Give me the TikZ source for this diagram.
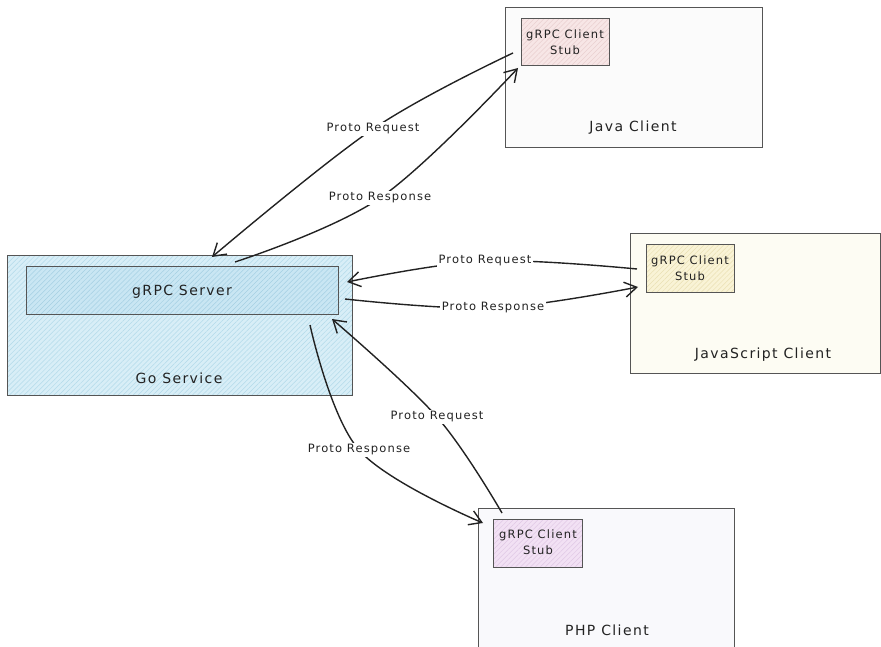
\documentclass[tikz,border=0pt]{standalone}
\usepackage{fontspec}
\setmainfont{DejaVu Sans}[LetterSpace=10]
\usetikzlibrary{arrows.meta,patterns.meta}

\definecolor{ink}{HTML}{222222}
\definecolor{edge}{HTML}{555555}
\definecolor{goFill}{HTML}{D8EEF7}
\definecolor{goHatch}{HTML}{B3DAEA}
\definecolor{srvFill}{HTML}{C9E6F3}
\definecolor{srvHatch}{HTML}{A5D0E3}
\definecolor{javaStub}{HTML}{F7E6E6}
\definecolor{javaHatch}{HTML}{EACFCF}
\definecolor{jsStub}{HTML}{F9F3D6}
\definecolor{jsHatch}{HTML}{EAE0B3}
\definecolor{phpStub}{HTML}{F2E1F4}
\definecolor{phpHatch}{HTML}{E0C8E5}
\definecolor{javaBg}{HTML}{FBFBFB}
\definecolor{jsBg}{HTML}{FDFCF3}
\definecolor{phpBg}{HTML}{F9F9FC}

\tikzset{
  panel/.style={draw=edge, line width=1.4pt, anchor=north west, inner sep=0pt},
  hatched/.style 2 args={preaction={fill=#1},
    pattern={Lines[angle=45,distance=3.5pt,line width=0.5pt]}, pattern color=#2},
  stubbox/.style={draw=edge, line width=1.2pt, anchor=north west, inner sep=0pt},
  title/.style={text=ink, font=\fontsize{14}{16}\selectfont},
  stubtext/.style={text=ink, align=center, font=\fontsize{11.5}{16.5}\selectfont},
  tag/.style={text=ink, fill=white, inner sep=2pt, font=\fontsize{11.5}{13}\selectfont},
  conn/.style={draw=ink, line width=1.4pt,
    -{Straight Barb[length=12pt,width=15pt,line width=1.4pt]}},
}

\begin{document}
\begin{tikzpicture}[x=1pt,y=-1pt]
\useasboundingbox (0,0) rectangle (881,647);
\clip (0,0) rectangle (881,647);

% ---- boxes ----
\node[panel, fill=javaBg, minimum width=257pt, minimum height=140pt] (java) at (505,7) {};
\node[panel, fill=jsBg, minimum width=250pt, minimum height=140pt] (js) at (630,233) {};
\node[panel, fill=phpBg, minimum width=256pt, minimum height=160pt] (php) at (478,508) {};
\node[panel, hatched={goFill}{goHatch}, minimum width=345pt, minimum height=140pt] (go) at (7,255) {};
\node[panel, line width=1.2pt, hatched={srvFill}{srvHatch}, minimum width=312pt, minimum height=48pt] (srv) at (26,266) {};

\node[stubbox, hatched={javaStub}{javaHatch}, minimum width=88pt, minimum height=47pt] (jstub) at (521,18) {};
\node[stubbox, hatched={jsStub}{jsHatch}, minimum width=88pt, minimum height=48pt] (jsstub) at (646,244) {};
\node[stubbox, hatched={phpStub}{phpHatch}, minimum width=89pt, minimum height=48pt] (pstub) at (493,519) {};

% ---- box texts ----
\node[stubtext] (jstubtxt) at (565,42) {gRPC Client\\Stub};
\node[stubtext] (jsstubtxt) at (690,268) {gRPC Client\\Stub};
\node[stubtext] (pstubtxt) at (538,542) {gRPC Client\\Stub};
\node[title] (javatxt) at (633,128) {Java Client};
\node[title] (jstxt) at (763,355) {JavaScript Client};
\node[title] (phptxt) at (607,630) {PHP Client};
\node[title] (srvtxt) at (182,292) {gRPC Server};
\node[title] (gotxt) at (179,378) {Go Service};

% ---- connector end points and label centres ----
\coordinate (jreqA) at (513,53);  \coordinate (jreqM) at (373,129); \coordinate (jreqB) at (212,257);
\coordinate (jresA) at (235,262); \coordinate (jresM) at (380,198); \coordinate (jresB) at (518,68);
\coordinate (sreqA) at (637,269); \coordinate (sreqM) at (485,261); \coordinate (sreqB) at (347,282);
\coordinate (sresA) at (345,299); \coordinate (sresM) at (493,308); \coordinate (sresB) at (638,287);
\coordinate (preqA) at (502,513); \coordinate (preqM) at (437,417); \coordinate (preqB) at (332,319);
\coordinate (presA) at (310,325); \coordinate (presM) at (359,450); \coordinate (presB) at (483,523);

% ---- connectors ----
\draw[conn] plot[smooth,tension=0.6] coordinates {(jreqA) (jreqM) (jreqB)};
\draw[conn] plot[smooth,tension=0.6] coordinates {(jresA) (jresM) (jresB)};
\draw[conn] plot[smooth,tension=0.6] coordinates {(sreqA) (sreqM) (sreqB)};
\draw[conn] plot[smooth,tension=0.6] coordinates {(sresA) (sresM) (sresB)};
\draw[conn] plot[smooth,tension=0.6] coordinates {(preqA) (preqM) (preqB)};
\draw[conn] plot[smooth,tension=0.6] coordinates {(presA) (presM) (presB)};

% ---- connector labels ----
\node[tag] (jreqL) at (jreqM) {Proto Request};
\node[tag] (jresL) at (jresM) {Proto Response};
\node[tag] (sreqL) at (sreqM) {Proto Request};
\node[tag] (sresL) at (sresM) {Proto Response};
\node[tag] (preqL) at (preqM) {Proto Request};
\node[tag] (presL) at (presM) {Proto Response};
\end{tikzpicture}
\end{document}
